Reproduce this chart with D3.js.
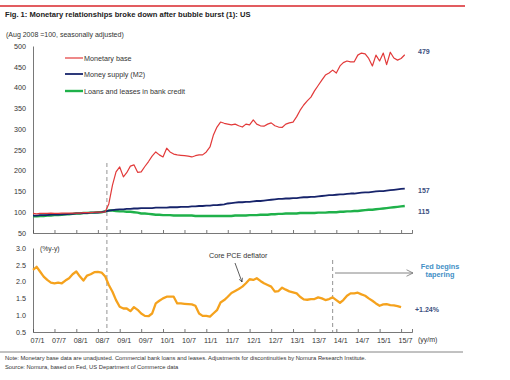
<!DOCTYPE html>
<html><head><meta charset="utf-8">
<script src="https://cdn.jsdelivr.net/npm/d3@7"></script>
<style>
body{margin:0;background:#fff;}
svg{display:block;font-family:"Liberation Sans",Arial,sans-serif;}
</style></head>
<body><svg id="c" width="510" height="380"></svg>
<script>
// ---- data (monthly, starting Jan 2007) ----
const startMonth = "2007-01";
const monetaryBase = [
 97,96,97,97,97,98,97,97,98,98,98,98,
 98,98,99,99,99,100,100,100,101,120,165,197,
 209,185,195,211,214,196,197,210,222,235,245,238,
 233,254,245,240,238,237,236,235,233,236,238,238,
 245,257,285,305,317,314,312,310,312,308,305,312,
 310,322,312,308,307,312,315,308,305,304,312,315,
 317,330,345,358,368,377,392,405,418,430,435,442,
 435,452,460,464,462,462,478,483,481,470,452,478,
 464,483,455,485,471,466,470,479];
const moneySupply = [
 92,92,93,93,93,94,94,94,95,95,96,96,
 97,97,98,98,99,99,99,100,102,104,105,106,
 107,107,108,108,109,109,110,110,110,110,111,111,
 111,111,112,112,112,113,113,113,114,114,115,115,
 116,116,117,117,118,119,121,122,123,124,124,125,
 125,126,127,127,128,129,130,131,132,132,133,133,
 134,134,135,136,136,137,137,138,139,140,141,141,
 142,143,143,144,145,145,146,147,148,148,149,150,
 151,151,152,153,154,155,156,157];
const loans = [
 90,90,91,91,92,92,93,93,94,95,95,96,
 97,97,98,98,99,99,100,100,102,104,104,103,
 102,102,101,101,100,99,97,97,96,95,94,94,
 93,93,93,92,92,92,92,92,92,91,91,91,
 91,91,91,91,91,91,91,91,92,92,92,92,
 93,93,93,94,94,94,95,95,96,96,97,97,
 97,97,98,98,98,98,98,99,99,99,100,100,
 100,101,101,102,102,103,103,104,105,106,106,107,
 108,109,110,111,112,113,114,115];
const corePCE = [
 2.35,2.44,2.30,2.15,2.05,1.97,1.95,1.97,1.95,2.03,2.10,2.22,
 2.30,2.15,2.03,2.18,2.22,2.28,2.29,2.27,2.15,1.90,1.70,1.45,
 1.25,1.20,1.20,1.12,1.24,1.16,1.05,0.98,0.97,1.05,1.35,1.43,
 1.50,1.55,1.55,1.55,1.35,1.35,1.34,1.33,1.32,1.28,1.05,0.98,
 0.98,0.96,1.05,1.15,1.38,1.45,1.55,1.66,1.72,1.78,1.85,1.95,
 2.07,2.05,2.10,2.02,1.95,1.90,1.85,1.70,1.72,1.82,1.76,1.71,
 1.68,1.65,1.55,1.47,1.46,1.48,1.48,1.53,1.50,1.45,1.48,1.53,
 1.45,1.37,1.45,1.58,1.65,1.65,1.67,1.62,1.58,1.50,1.43,1.35,
 1.28,1.32,1.33,1.30,1.29,1.27,1.24];
const topTicks = [50,100,150,200,250,300,350,400,450,500];
const bottomTicks = [0.5,1.0,1.5,2.0,2.5,3.0];
const xTickLabels = ["07/1","07/7","08/1","08/7","09/1","09/7","10/1","10/7","11/1","11/7","12/1","12/7","13/1","13/7","14/1","14/7","15/1","15/7"];
const seriesNames = ["Monetary base","Money supply (M2)","Loans and leases in bank credit"];
const endLabels = ["479","157","115"];
const pceEndLabel = "+1.24%";
const lehmanDate = "2008-09-15";
const taperDate = "2013-12-01";

// ---- setup ----
const svg = d3.select("#c");
const parse = d3.timeParse("%Y-%m");
const t0 = parse(startMonth);
const dates = d3.range(monetaryBase.length).map(i => d3.timeMonth.offset(t0, i));
const x = d3.scaleTime().domain([t0, new Date(2015, 9, 1)]).range([33, 412]);
const yTop = d3.scaleLinear().domain([50, 500]).range([233, 46]);
const yBot = d3.scaleLinear().domain([0.5, 3.0]).range([332, 248]);
const tickDates = xTickLabels.map(s => { const [yy, m] = s.split("/"); return new Date(2000 + +yy, +m - 1, 1); });
const axisCol = "#555";

// header
svg.append("line").attr("x1",0).attr("x2",465).attr("y1",6).attr("y2",6).attr("stroke","#d9262b").attr("stroke-width",1.3);
svg.append("text").attr("x",5).attr("y",17).attr("font-size",7.6).attr("font-weight","bold").attr("fill","#222")
  .text("Fig. 1: Monetary relationships broke down after bubble burst (1): US");
svg.append("text").attr("x",6).attr("y",37).attr("font-size",7).attr("fill","#333")
  .text("(Aug 2008 =100, seasonally adjusted)");

// top axes
const gTopY = svg.append("g").attr("transform","translate(33,0)")
  .call(d3.axisLeft(yTop).tickValues(topTicks).tickSize(0).tickPadding(7).tickFormat(d3.format("d")));
const gTopX = svg.append("g").attr("transform","translate(0,233)")
  .call(d3.axisBottom(x).tickValues(tickDates).tickSize(-3).tickFormat(""));
// bottom axes
const gBotY = svg.append("g").attr("transform","translate(33,0)")
  .call(d3.axisLeft(yBot).tickValues(bottomTicks).tickSize(0).tickPadding(7).tickFormat(d3.format(".1f")));
const gBotX = svg.append("g").attr("transform","translate(0,332)")
  .call(d3.axisBottom(x).tickValues(tickDates).tickSize(-3).tickPadding(6).tickFormat((d,i)=>xTickLabels[i]));
[gTopY,gTopX,gBotY,gBotX].forEach(g=>{
  g.selectAll(".domain").attr("stroke",axisCol).attr("stroke-width",0.8);
  g.selectAll(".tick line").attr("stroke",axisCol).attr("stroke-width",0.8);
  g.selectAll("text").attr("font-size",7.2).attr("fill","#333").attr("font-family","Liberation Sans, Arial, sans-serif");
});
gBotX.selectAll("text").attr("dx",4);

// dashed event lines
svg.append("line").attr("x1",x(d3.isoParse(lehmanDate))).attr("x2",x(d3.isoParse(lehmanDate)))
  .attr("y1",163).attr("y2",332).attr("stroke","#888").attr("stroke-width",0.9).attr("stroke-dasharray","4,3");
svg.append("line").attr("x1",x(d3.isoParse(taperDate))).attr("x2",x(d3.isoParse(taperDate)))
  .attr("y1",260).attr("y2",332).attr("stroke","#888").attr("stroke-width",0.9).attr("stroke-dasharray","4,3");

// lines
const colors = ["#e23a3a","#17246b","#1fb14a"];
const widths = [1.2,1.8,2.4];
const topSeries = [monetaryBase, moneySupply, loans];
const lineTop = d3.line().x((d,i)=>x(dates[i])).y(d=>yTop(d));
[2,1,0].forEach(k=>{
  svg.append("path").datum(topSeries[k]).attr("d",lineTop).attr("fill","none")
    .attr("stroke",colors[k]).attr("stroke-width",widths[k]).attr("stroke-linejoin","round");
});
const lineBot = d3.line().x((d,i)=>x(dates[i])).y(d=>yBot(d));
svg.append("path").datum(corePCE).attr("d",lineBot).attr("fill","none")
  .attr("stroke","#f5a21d").attr("stroke-width",2.3).attr("stroke-linejoin","round");

// legend
const legY = [58,74,91];
seriesNames.forEach((n,k)=>{
  svg.append("line").attr("x1",65).attr("x2",83).attr("y1",legY[k]).attr("y2",legY[k])
    .attr("stroke",colors[k]).attr("stroke-width",widths[k]);
  svg.append("text").attr("x",84).attr("y",legY[k]+2.5).attr("font-size",7.2).attr("fill","#333").text(n);
});

// end labels
const endY = [monetaryBase, moneySupply, loans].map(s=>yTop(s[s.length-1]));
const endOff = [-3, 1.5, 6];
endLabels.forEach((t,k)=>{
  svg.append("text").attr("x",418).attr("y",endY[k]+endOff[k]+2.5).attr("font-size",7).attr("font-weight","bold")
    .attr("fill","#3d5080").text(t);
});
svg.append("text").attr("x",415).attr("y",yBot(corePCE[corePCE.length-1])+5).attr("font-size",7).attr("font-weight","bold")
  .attr("fill","#3d5080").text(pceEndLabel);

// bottom annotations
svg.append("text").attr("x",40).attr("y",251).attr("font-size",6.8).attr("fill","#333").text("(%y-y)");
svg.append("text").attr("x",209).attr("y",258).attr("font-size",7.2).attr("fill","#333").text("Core PCE deflator");
const defs = svg.append("defs");
defs.append("marker").attr("id","ah").attr("viewBox","0 0 10 10").attr("refX",9).attr("refY",5)
  .attr("markerWidth",6).attr("markerHeight",6).attr("orient","auto")
  .append("path").attr("d","M1,1 L9,5 L1,9").attr("fill","none").attr("stroke","#333").attr("stroke-width",1.3);
defs.append("marker").attr("id","ah2").attr("viewBox","0 0 10 10").attr("refX",9).attr("refY",5)
  .attr("markerWidth",9).attr("markerHeight",9).attr("orient","auto")
  .append("path").attr("d","M1,1 L9,5 L1,9").attr("fill","none").attr("stroke","#777").attr("stroke-width",1);
svg.append("line").attr("x1",235).attr("y1",263).attr("x2",242).attr("y2",282)
  .attr("stroke","#333").attr("stroke-width",0.8).attr("marker-end","url(#ah)");
svg.append("line").attr("x1",335).attr("y1",273).attr("x2",413).attr("y2",273)
  .attr("stroke","#777").attr("stroke-width",0.9).attr("marker-end","url(#ah2)");
const fed = svg.append("text").attr("x",440).attr("y",269).attr("font-size",7.3).attr("font-weight","bold")
  .attr("fill","#3f8fc6").attr("text-anchor","middle");
fed.append("tspan").attr("x",440).attr("dy",0).text("Fed begins");
fed.append("tspan").attr("x",440).attr("dy",8.3).text("tapering");
svg.append("text").attr("x",418).attr("y",342).attr("font-size",7).attr("fill","#333").text("(yy/m)");

// footer
svg.append("line").attr("x1",0).attr("x2",463).attr("y1",352).attr("y2",352).attr("stroke","#666").attr("stroke-width",0.8);
svg.append("text").attr("x",5).attr("y",360).attr("font-size",5.8).attr("fill","#333")
  .text("Note: Monetary base data are unadjusted. Commercial bank loans and leases. Adjustments for discontinuities by Nomura Research Institute.");
svg.append("text").attr("x",5).attr("y",369).attr("font-size",5.8).attr("fill","#333")
  .text("Source: Nomura, based on Fed, US Department of Commerce data");
</script></body></html>
